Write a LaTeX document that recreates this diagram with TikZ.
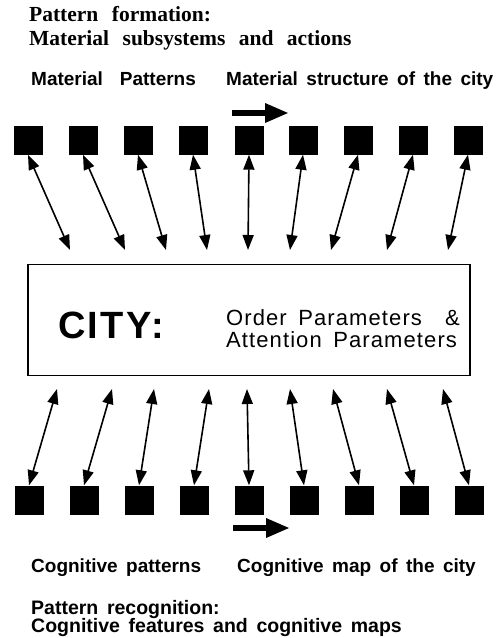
\documentclass[tikz,border=0pt]{standalone}
\usepackage{fontspec}
\usepackage{tikz}
\usetikzlibrary{arrows.meta}
\newfontfamily\headfont[WordSpace=2.5]{Liberation Serif}
\newfontfamily\labfont[WordSpace=1.6]{Liberation Sans}
\newfontfamily\parfont[WordSpace=1.6,LetterSpace=5]{Liberation Sans}
\newfontfamily\cityfont[LetterSpace=6]{Liberation Sans}
\tikzset{
  patbox/.style={rectangle, fill=black, minimum size=29pt, inner sep=0pt},
  citybox/.style={draw=black, line width=1.4pt, minimum width=442pt, minimum height=111pt, inner sep=0pt},
  link/.style={line width=1.6pt, {Triangle[length=15pt,width=11pt]}-{Triangle[length=15pt,width=11pt]}},
  flow/.style={line width=6.5pt, -{Triangle[length=24pt,width=18pt]}},
  headlab/.style={font=\headfont\bfseries\fontsize{21.5}{25}\selectfont, anchor=base west, inner sep=0pt},
  lab/.style={font=\labfont\bfseries\fontsize{19}{23}\selectfont, anchor=base west, inner sep=0pt},
  sublab/.style={font=\labfont\bfseries\fontsize{19.5}{23}\selectfont, anchor=base west, inner sep=0pt},
  citylab/.style={font=\cityfont\bfseries\fontsize{38}{42}\selectfont, anchor=base west, inner sep=0pt},
  parlab/.style={font=\parfont\fontsize{22}{26}\selectfont, anchor=base west, inner sep=0pt},
}

\begin{document}
\begin{tikzpicture}[x=1pt,y=-1pt]
  \useasboundingbox (0,0) rectangle (498,638);

  % headings
  \node[headlab] (formtitle) at (29,21) {Pattern formation:};
  \node[headlab] (formsub) at (29,45) {Material subsystems and actions};
  \node[lab] (matpat) at (31,85) {Material\ \ Patterns};
  \node[lab] (matstruct) at (226,85) {Material structure of the city};

  % city box
  \node[citybox] (city) at (249,320) {};
  \node[citylab] (cityname) at (58,338) {CITY:};
  \node[parlab] (orderpar) at (226,325) {Order Parameters \ \&};
  \node[parlab] (attpar) at (226,347) {Attention Parameters};

  % material patterns and links
  \foreach \i/\xs/\xe in {1/28/70, 2/83/125, 3/138/166, 4/193/207, 5/249/248,
                          6/303/290, 7/358/331, 8/413/387, 9/468/448} {
    \node[patbox] (t\i) at (\xs,140) {};
    \coordinate (tc\i) at (\xe,250);
    \draw[link] (t\i.south) -- (tc\i);
  }

  % cognitive patterns and links
  \foreach \i/\xs/\xe in {1/29/57, 2/84/112, 3/139/154, 4/194/209, 5/249/247,
                          6/304/290, 7/359/333, 8/414/387, 9/469/443} {
    \node[patbox] (b\i) at (\xs,500) {};
    \coordinate (bc\i) at (\xe,389);
    \draw[link] (bc\i) -- (b\i.north);
  }

  % direction arrows
  \coordinate (topfrom) at (232,113);
  \coordinate (topto) at (289,113);
  \draw[flow] (topfrom) -- (topto);
  \coordinate (botfrom) at (233,528);
  \coordinate (botto) at (290,528);
  \draw[flow] (botfrom) -- (botto);

  % footings
  \node[lab] (cogpat) at (31,572) {Cognitive patterns};
  \node[lab] (cogmap) at (237,572) {Cognitive map of the city};
  \node[sublab] (rectitle) at (31,614) {Pattern recognition:};
  \node[sublab] (recsub) at (31,632) {Cognitive features and cognitive maps};
\end{tikzpicture}
\end{document}
